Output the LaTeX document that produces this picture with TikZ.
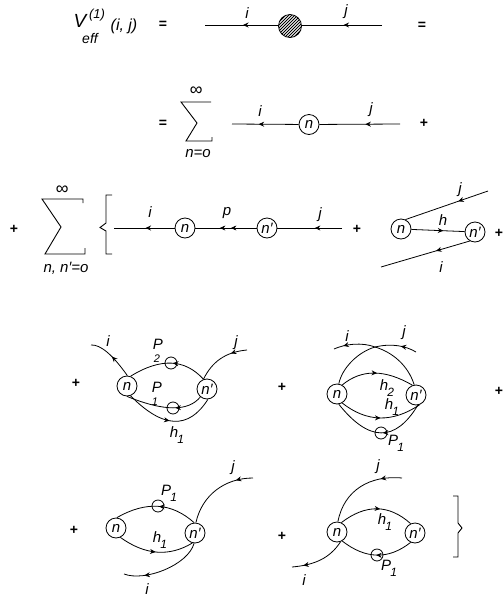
\documentclass[tikz,border=0pt]{standalone}
\usepackage{fontspec}
\setmainfont{Liberation Sans}
\usetikzlibrary{arrows.meta,decorations.markings,calc}
\newcommand{\lbl}{\fontsize{15}{15}\selectfont\itshape}
\newcommand{\subs}[2]{#1\kern-0.05em\raisebox{-0.38em}{\fontsize{12}{12}\selectfont #2}}
\newcommand{\qc}[3]{(#1) .. controls ($(#1)!0.667!(#2)$) and ($(#3)!0.667!(#2)$) .. (#3)}
\tikzset{
  every node/.style={inner sep=0pt,font=\lbl},
  vertex/.style={draw,circle,line width=0.8pt,minimum size=20pt,fill=white},
  loopmark/.style={draw,circle,line width=0.8pt,minimum size=12pt},
  conn/.style={line width=0.8pt},
  tipat/.style={postaction={decorate,decoration={markings,mark=at position #1 with {\arrow{Stealth[length=5.5pt,width=5pt]}}}}},
  op/.style={font=\fontsize{14}{14}\selectfont\bfseries},
  sumline/.style={line width=0.9pt},
  smalldigit/.style={font=\fontsize{11}{11}\selectfont\itshape}
}
\begin{document}
\begin{tikzpicture}[x=1pt,y=-1pt]
\useasboundingbox (0,0) rectangle (503,598);
% row 1
\node (V) at (80,21) {\fontsize{19}{19}\selectfont V};
\node (sup) at (97,15) {\fontsize{13}{13}\selectfont\itshape (1)};
\node (eff) at (90,38) {\fontsize{14}{14}\selectfont\itshape eff};
\node (ij) at (124,26) {\fontsize{16}{16}\selectfont\itshape (i, j)};
\node[op] (eqa) at (163,25) {=};
\node[op] (eqb) at (422,26) {=};
\node[draw,circle,line width=0.8pt,minimum size=23pt,path picture={
  \foreach \d in {-24,-21,...,24}{\draw[line width=0.9pt] ([shift={(-15,15+\d)}]path picture bounding box.center) -- ([shift={(15,-15+\d)}]path picture bounding box.center);}
}] (blob) at (290,26) {};
\coordinate (a1) at (205,25);
\coordinate (a2) at (382,25);
\draw[conn,tipat=0.48] (a2) -- (blob.east |- a2);
\draw[conn,tipat=0.48] (blob.west |- a1) -- (a1);
\node (ai) at (247,13) {i};
\node (aj) at (346,12) {j};
% row 2
\node[op] (eqc) at (163,124) {=};
\node (infa) at (196,91) {\fontsize{18}{18}\selectfont\itshape ∞};
\draw[sumline] (211,102) -- (181,102) -- (197,123) -- (186,141) -- (212,141) -- (212,137);
\node (na) at (198,154) {n=o};
\node[vertex] (nb) at (309,124.5) {n};
\coordinate (b1) at (232,124);
\coordinate (b2) at (400,124);
\draw[conn,tipat=0.43] (b2) -- (nb);
\draw[conn,tipat=0.6] (nb) -- (b1);
\node (bi) at (260,111) {i};
\node (bj) at (371,110) {j};
\node[op] (pa) at (424,123) {+};
% row 3
\node[op] (pb) at (14,229) {+};
\node (infb) at (62,190) {\fontsize{18}{18}\selectfont\itshape ∞};
\draw[sumline] (83,203) -- (83,199) -- (42,199) -- (61,227) -- (45,254) -- (85,254) -- (85,248);
\node (nc) at (66,268) {n, n′=o};
\draw[sumline] (112,195) -- (106,195) -- (106,223) -- (100,227.5) -- (106,231) -- (106,254) -- (112,254);
\node[vertex] (nd) at (185,228) {n};
\node[vertex] (ne) at (267,228) {n′};
\coordinate (c1) at (114,228);
\coordinate (c2) at (342,228);
\draw[conn,tipat=0.42] (c2) -- (ne);
\draw[conn,tipat=0.42,tipat=0.6] (ne) -- (nd);
\draw[conn,tipat=0.48] (nd) -- (c1);
\node (ci) at (150,212) {i};
\node (cp) at (227,213) {p};
\node (cj) at (320,215) {j};
\node[op] (pc) at (357,229) {+};
\node[vertex] (nf) at (401,229) {n};
\node[vertex] (ng) at (475,232) {n′};
\coordinate (d1) at (488,191);
\coordinate (d2) at (381,267);
\draw[conn,tipat=0.36] (d1) -- (nf.65);
\draw[conn,tipat=0.6] (nf) -- (ng);
\draw[conn,tipat=0.38] (ng.-120) -- (d2);
\node (dj) at (460,190) {j};
\node (dh) at (443,220) {h};
\node (di) at (441,267) {i};
\node[op] (pd) at (499,233) {+};
% row 4 left
\node[op] (pe) at (76,383) {+};
\node[vertex] (ni) at (127,386) {n};
\node[vertex] (nj) at (207,389) {n′};
\node[loopmark] (pt) at (171,363) {};
\node[loopmark] (pu) at (173,408) {};
\coordinate (e1) at (91,345);
\coordinate (e2) at (247,350);
\draw[conn,tipat=0.5] \qc{ni.88}{105,344}{e1};
\draw[conn,tipat=0.3] (e2) .. controls (225,352) and (212,362) .. (nj.110);
\draw[conn,tipat=0.44] \qc{nj.110}{175.5,348.5}{ni.70};
\draw[conn,tipat=0.36] \qc{nj.-130}{182.5,419}{ni.-90};
\draw[conn,tipat=0.5] \qc{ni.-70}{179,445}{nj.-85};
\node (ei) at (108,341) {i};
\node (ej) at (236,343) {j};
\node (ep) at (158,344) {P};
\node[smalldigit] (epd) at (157,359) {2};
\node (eq) at (157,387) {P};
\node[smalldigit] (eqd) at (155,402) {1};
\node (eh) at (177,435) {\subs{h}{1}};
% row 4 right
\node[op] (pf) at (282,387) {+};
\node[vertex] (nk) at (337,394) {n};
\node[vertex] (nl) at (416,395) {n′};
\node[loopmark] (pv) at (381,433) {};
\coordinate (x) at (375,347);
\coordinate (f1) at (334,349);
\coordinate (f2) at (416,352);
\draw[conn,tipat=0.9] (nl.100) .. controls (408,365) and (392,352) .. (x) .. controls (362,342) and (345,344) .. (f1);
\draw[conn,tipat=0.17] (f2) .. controls (406,346) and (392,343) .. (x) .. controls (358,352) and (342,368) .. (nk.80);
\draw[conn,tipat=0.5] \qc{nk.60}{371,361}{nl.110};
\draw[conn,tipat=0.5] \qc{nk.-60}{379,432}{nl.-70};
\draw[conn,tipat=0.46] \qc{nl.-80}{384,461}{nk.-80};
\node (fi) at (347,336) {i};
\node (fj) at (404,333) {j};
\node (fh) at (387,388) {\subs{h}{2}};
\node (fg) at (392,407) {\subs{h}{1}};
\node (fp) at (396,443) {\subs{P}{1}};
\node[op] (pg) at (499,391) {+};
% row 5 left
\node[op] (ph) at (74,530) {+};
\node[vertex] (nm) at (116,528) {n};
\node[vertex] (nn) at (195,533) {n′};
\node[loopmark] (pw) at (158,506) {};
\coordinate (g1) at (253,478);
\coordinate (g2) at (124,574);
\draw[conn,tipat=0.47] \qc{nn.95}{160.5,492.5}{nm.85};
\draw[conn,tipat=0.5] \qc{nm.-65}{157.5,564}{nn.-105};
\draw[conn,tipat=0.22] (g1) .. controls (225,478) and (202,495) .. (nn.85);
\draw[conn,tipat=0.75] (nn.-95) .. controls (188,565) and (145,582) .. (g2);
\node (gj) at (233,468) {j};
\node (gi) at (147,589) {i};
\node (gh) at (160,540) {\subs{h}{1}};
\node (gp) at (169,493) {\subs{P}{1}};
% row 5 right
\node[op] (pi) at (282,536) {+};
\node[vertex] (no) at (337,532) {n};
\node[vertex] (np) at (415,533) {n′};
\node[loopmark] (px) at (377,555) {};
\coordinate (h1) at (402,478);
\coordinate (h2) at (292,567);
\draw[conn,tipat=0.25] (h1) .. controls (370,475) and (344,490) .. (no.85);
\draw[conn,tipat=0.55] \qc{no.65}{378,494.5}{np.115};
\draw[conn,tipat=0.5] \qc{np.-115}{377.5,568.5}{no.-60};
\draw[conn,tipat=0.8] (no.-70) .. controls (330,558) and (315,565) .. (h2);
\node (hj) at (378,467) {j};
\node (hi) at (304,580) {i};
\node (hh) at (385,522) {\subs{h}{1}};
\node (hp) at (389,568) {\subs{P}{1}};
\draw[sumline] (453,496) -- (458,496) -- (458,523) -- (462,528) -- (458,533) -- (458,557) -- (453,557);
\end{tikzpicture}
\end{document}
